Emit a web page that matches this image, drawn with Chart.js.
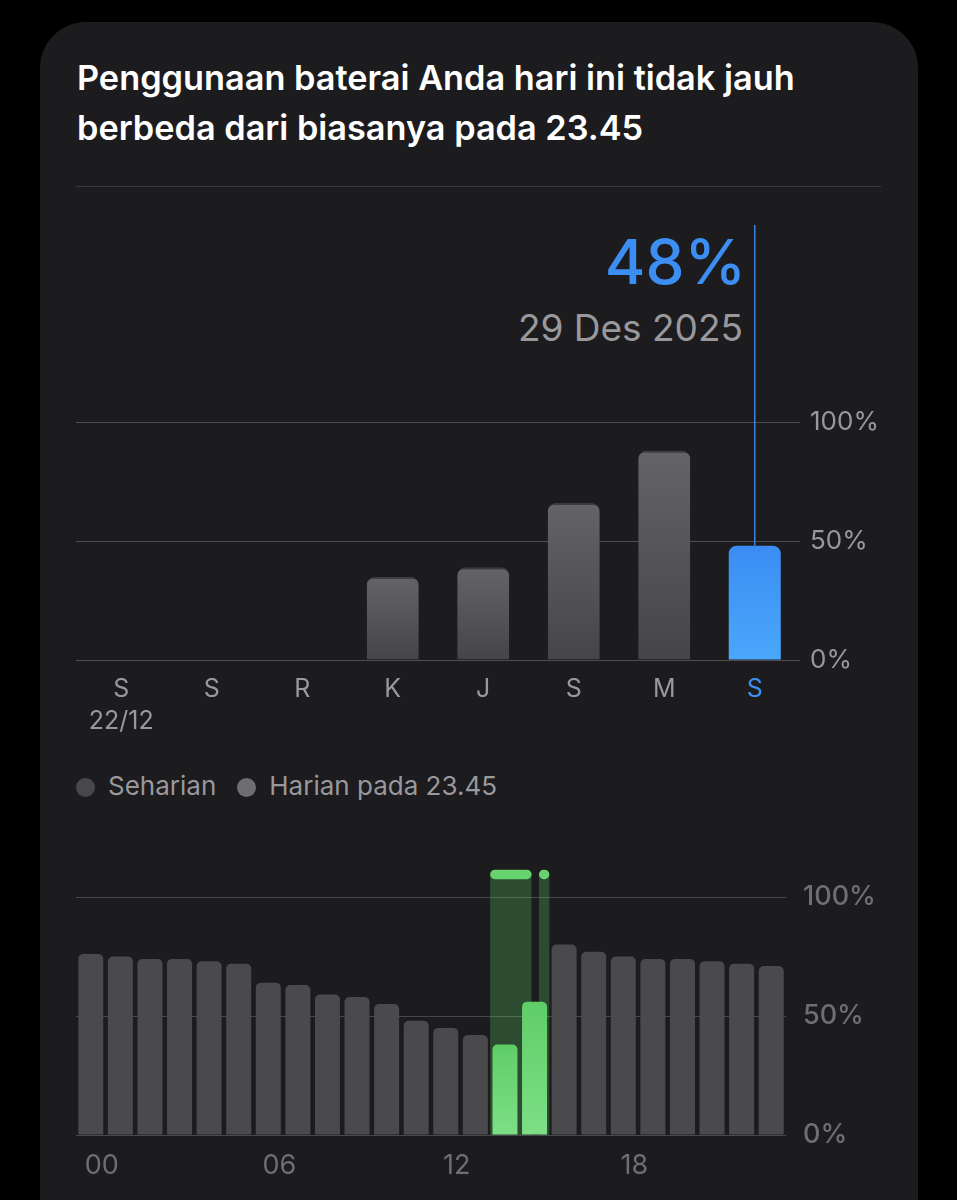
<!DOCTYPE html>
<html>
<head>
<meta charset="utf-8">
<script src="https://cdn.jsdelivr.net/npm/chart.js@4.4.1/dist/chart.umd.min.js"></script>
<style>
  html, body { margin: 0; padding: 0; background: #000; width: 957px; height: 1200px; overflow: hidden; font-family: Inter, "Noto Sans", sans-serif; }
  .card { position: absolute; left: 40px; top: 22px; width: 878px; height: 1300px; background: #1c1c1e; border-radius: 46px; }
  .title { position: absolute; left: 77px; top: 53px; font-size: 34.3px; line-height: 50px; font-weight: 600; color: #fff; white-space: nowrap; }
  .sep { position: absolute; left: 76px; top: 186px; width: 805px; height: 1px; background: #3a3a3c; }
  .big { position: absolute; right: 211px; top: 231px; font-size: 62px; line-height: 62px; font-weight: 500; color: #3d8ef2; white-space: nowrap; }
  .date { position: absolute; right: 214px; top: 309px; font-size: 37px; line-height: 37px; font-weight: 400; color: #98989d; white-space: nowrap; }
  canvas { position: absolute; left: 0; }
  .legend { position: absolute; top: 771px; left: 76px; font-size: 26px; line-height: 30px; color: #98989d; white-space: nowrap; }
  .legend span.dot { display: inline-block; width: 19px; height: 19px; border-radius: 50%; vertical-align: -2px; margin-right: 13px; }
  .legend span.txt { margin-right: 21px; }
</style>
</head>
<body>
<div class="card"></div>
<div class="title">Penggunaan baterai Anda hari ini tidak jauh<br>berbeda dari biasanya pada 23.45</div>
<div class="sep"></div>
<div class="big">48%</div>
<div class="date">29 Des 2025</div>
<canvas id="top" width="957" height="540" style="top:200px;width:957px;height:540px"></canvas>
<div class="legend"><span class="dot" style="background:#48484a"></span><span class="txt">Seharian</span><span class="dot" style="background:#6e6e72"></span><span class="txt">Harian pada 23.45</span></div>
<canvas id="bottom" width="957" height="360" style="top:840px;width:957px;height:360px"></canvas>
<script>
// ---- data ----
const dayLabels = ['S', 'S', 'R', 'K', 'J', 'S', 'M', 'S'];
const weekStart = '22/12';
const dayUsage = [null, null, null, 35, 39, 66, 88, 48];
const selectedDay = 7;

const hourLabels = ['00','01','02','03','04','05','06','07','08','09','10','11','12','13','14','15','16','17','18','19','20','21','22','23'];
const hourLevel = [76, 75, 74, 74, 73, 72, 64, 63, 59, 58, 55, 48, 45, 42, 38, 56, 80, 77, 75, 74, 74, 73, 72, 71];
const chargingHours = [14, 15];
const chargeStart = [14.0, 15.65];
const chargeEnd = [15.4, 16.0];

const yTicks = [0, 50, 100];

const FONT = 'Inter';
const BLUE = '#3d8ef2';

function grad(ctx, y0, y1, c0, c1) {
  const g = ctx.createLinearGradient(0, y0, 0, y1);
  g.addColorStop(0, c0); g.addColorStop(1, c1);
  return g;
}

function barGradient(c, top, bottom) {
  const chart = c.chart;
  const ys = chart.scales && chart.scales.y;
  if (!ys || !c.parsed || c.parsed.y == null) return top;
  const y0 = ys.getPixelForValue(c.parsed.y), y1 = ys.getPixelForValue(0);
  if (!isFinite(y0) || !isFinite(y1) || y0 === y1) return top;
  return grad(chart.ctx, y0, y1, top, bottom);
}

const markerPlugin = {
  id: 'marker',
  afterDatasetsDraw(chart) {
    const el = chart.getDatasetMeta(0).data[selectedDay];
    if (!el) return;
    const ctx = chart.ctx;
    ctx.save();
    ctx.strokeStyle = '#3a82dc';
    ctx.lineWidth = 1.5;
    ctx.beginPath();
    ctx.moveTo(el.x, chart.chartArea.top - 197);
    ctx.lineTo(el.x, el.y);
    ctx.stroke();
    ctx.restore();
  }
};

new Chart(document.getElementById('top'), {
  type: 'bar',
  data: {
    labels: dayLabels,
    datasets: [{
      data: dayUsage,
      backgroundColor: c => c.dataIndex === selectedDay ? barGradient(c, '#3b8cf2', '#4aa8fb') : barGradient(c, '#646468', '#454548'),
      borderColor: '#3c3c3f',
      borderWidth: c => c.dataIndex === selectedDay ? 0 : { top: 2, left: 0, right: 0, bottom: 0 },
      borderSkipped: 'bottom',
      borderRadius: { topLeft: 8, topRight: 8, bottomLeft: 0, bottomRight: 0 },
      barPercentage: 0.575,
      categoryPercentage: 1.0
    }]
  },
  options: {
    responsive: false,
    animation: false,
    events: [],
    layout: { padding: { left: 76, top: 222, right: 0, bottom: 0 } },
    plugins: { legend: { display: false }, tooltip: { enabled: false } },
    scales: {
      x: {
        grid: { display: false },
        border: { display: false },
        ticks: {
          autoSkip: false, maxRotation: 0, padding: 5,
          color: c => c.index === selectedDay ? BLUE : '#98989d',
          font: { family: FONT, size: 25, lineHeight: 1.28 },
          callback: (v, i) => i === 0 ? [dayLabels[i], weekStart] : dayLabels[i]
        },
        afterFit: s => { s.height = 80; }
      },
      y: {
        position: 'right',
        min: 0, max: 100,
        afterBuildTicks: s => { s.ticks = yTicks.map(v => ({ value: v })); },
        grid: { color: '#4e4e52', lineWidth: 1, drawTicks: false },
        border: { display: false },
        ticks: { padding: 10, color: '#98989d', font: { family: FONT, size: 26 }, callback: v => v + '%' },
        afterFit: s => { s.width = 157; }
      }
    }
  },
  plugins: [markerPlugin]
});

const chargePlugin = {
  id: 'charge',
  beforeDatasetsDraw(chart) {
    const xs = chart.scales.x, ys = chart.scales.y, ctx = chart.ctx;
    const capY = ys.getPixelForValue(109.5);
    const base = ys.getPixelForValue(0);
    ctx.save();
    for (let i = 0; i < chargeStart.length; i++) {
      const x0 = xs.getPixelForValue(chargeStart[i] - 0.5);
      const x1 = xs.getPixelForValue(chargeEnd[i] - 0.5);
      ctx.fillStyle = 'rgba(92,215,102,0.25)';
      ctx.fillRect(x0, capY, x1 - x0, base - capY);
    }
    ctx.restore();
  },
  afterDatasetsDraw(chart) {
    const xs = chart.scales.x, ys = chart.scales.y, ctx = chart.ctx;
    const capY = ys.getPixelForValue(109.5);
    ctx.save();
    ctx.fillStyle = '#66d36e';
    for (let i = 0; i < chargeStart.length; i++) {
      const x0 = xs.getPixelForValue(chargeStart[i] - 0.5);
      const x1 = xs.getPixelForValue(chargeEnd[i] - 0.5);
      const h = 9.5;
      ctx.beginPath();
      ctx.roundRect(x0, capY - h / 2, Math.max(x1 - x0, h), h, h / 2);
      ctx.fill();
    }
    ctx.restore();
  }
};

new Chart(document.getElementById('bottom'), {
  type: 'bar',
  data: {
    labels: hourLabels,
    datasets: [{
      data: hourLevel,
      backgroundColor: c => chargingHours.includes(c.dataIndex) ? barGradient(c, '#5fce67', '#7ede87') : '#4a4a4d',
      borderWidth: 0,
      borderRadius: { topLeft: 5, topRight: 5, bottomLeft: 0, bottomRight: 0 },
      barPercentage: 0.845,
      categoryPercentage: 1.0
    }]
  },
  options: {
    responsive: false,
    animation: false,
    events: [],
    layout: { padding: { left: 76, top: 57, right: 0, bottom: 0 } },
    plugins: { legend: { display: false }, tooltip: { enabled: false } },
    scales: {
      x: {
        grid: { display: false },
        border: { display: false },
        ticks: {
          autoSkip: false, maxRotation: 0, padding: 7, labelOffset: 11,
          color: '#6e6e73',
          font: { family: FONT, size: 27 },
          callback: (v, i) => i % 6 === 0 ? hourLabels[i] : ''
        },
        afterFit: s => { s.height = 65; }
      },
      y: {
        position: 'right',
        min: 0, max: 100,
        afterBuildTicks: s => { s.ticks = yTicks.map(v => ({ value: v })); },
        grid: { color: '#48484b', lineWidth: 1, drawTicks: false },
        border: { display: false },
        ticks: { padding: 17, color: '#6e6e73', font: { family: FONT, size: 27, weight: '500' }, callback: v => v + '%' },
        afterFit: s => { s.width = 171; }
      }
    }
  },
  plugins: [chargePlugin]
});
</script>
</body>
</html>
